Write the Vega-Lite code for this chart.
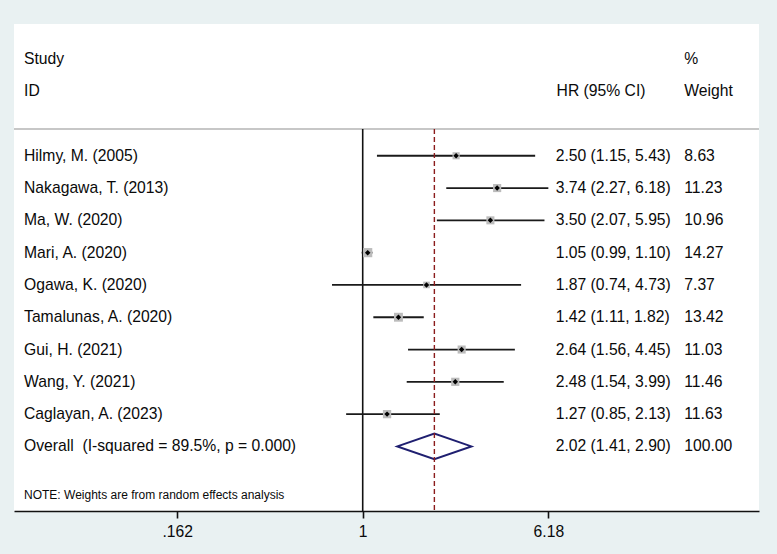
{
  "$schema": "https://vega.github.io/schema/vega-lite/v6.json",
  "width": 745,
  "height": 487,
  "autosize": {"type": "none"},
  "padding": {"left": 14, "top": 24, "right": 18, "bottom": 43},
  "background": "#e9f1f2",
  "config": {
    "view": {"stroke": null, "fill": "white"},
    "font": "Liberation Sans",
    "text": {"font": "Liberation Sans", "fontSize": 15.7, "color": "#0a0a0a", "align": "left", "baseline": "middle"}
  },
  "data": {
    "values": [
      {"study": "Hilmy, M. (2005)", "row": 1, "hr": 2.50, "lo": 1.15, "hi": 5.43, "w": 8.63, "kind": "study"},
      {"study": "Nakagawa, T. (2013)", "row": 2, "hr": 3.74, "lo": 2.27, "hi": 6.18, "w": 11.23, "kind": "study"},
      {"study": "Ma, W. (2020)", "row": 3, "hr": 3.50, "lo": 2.07, "hi": 5.95, "w": 10.96, "kind": "study"},
      {"study": "Mari, A. (2020)", "row": 4, "hr": 1.05, "lo": 0.99, "hi": 1.10, "w": 14.27, "kind": "study"},
      {"study": "Ogawa, K. (2020)", "row": 5, "hr": 1.87, "lo": 0.74, "hi": 4.73, "w": 7.37, "kind": "study"},
      {"study": "Tamalunas, A. (2020)", "row": 6, "hr": 1.42, "lo": 1.11, "hi": 1.82, "w": 13.42, "kind": "study"},
      {"study": "Gui, H. (2021)", "row": 7, "hr": 2.64, "lo": 1.56, "hi": 4.45, "w": 11.03, "kind": "study"},
      {"study": "Wang, Y. (2021)", "row": 8, "hr": 2.48, "lo": 1.54, "hi": 3.99, "w": 11.46, "kind": "study"},
      {"study": "Caglayan, A. (2023)", "row": 9, "hr": 1.27, "lo": 0.85, "hi": 2.13, "w": 11.63, "kind": "study"},
      {"study": "Overall\u00a0 (I-squared = 89.5%, p = 0.000)", "row": 10, "hr": 2.02, "lo": 1.41, "hi": 2.90, "w": 100.00, "kind": "overall"}
    ]
  },
  "transform": [
    {"calculate": "format(datum.hr, '.2f') + ' (' + format(datum.lo, '.2f') + ', ' + format(datum.hi, '.2f') + ')'", "as": "ci"},
    {"calculate": "format(datum.w, '.2f')", "as": "wt"}
  ],
  "encoding": {
    "x": {
      "type": "quantitative",
      "scale": {"type": "log", "domain": [0.03267, 48.82], "nice": false, "zero": false},
      "axis": {
        "title": null,
        "values": [0.162, 1, 6.18],
        "labelExpr": "datum.value == 1 ? '1' : (datum.value < 0.5 ? '.162' : '6.18')",
        "grid": false,
        "domainColor": "#111111",
        "domainWidth": 1.6,
        "tickColor": "#111111",
        "tickWidth": 1.6,
        "tickSize": 7,
        "labelFontSize": 15.7,
        "labelColor": "#0a0a0a",
        "labelFont": "Liberation Sans",
        "labelPadding": 6
      }
    },
    "y": {
      "type": "quantitative",
      "scale": {"domain": [-3.08, 12.0], "reverse": true, "nice": false, "zero": false},
      "axis": null
    }
  },
  "layer": [
    {
      "data": {"values": [{}]},
      "mark": {"type": "rule", "color": "#b4b4b4", "strokeWidth": 1.5},
      "encoding": {"x": null, "y": {"datum": 0.17}}
    },
    {
      "data": {"values": [{}]},
      "mark": {"type": "rule", "color": "#111111", "strokeWidth": 1.6},
      "encoding": {"x": {"datum": 1}, "y": {"datum": 0.17}, "y2": {"datum": 12.0}}
    },
    {
      "transform": [{"filter": "datum.kind == 'study'"}],
      "mark": {"type": "rule", "color": "#1a1a1a", "strokeWidth": 1.8},
      "encoding": {"x": {"field": "lo"}, "x2": {"field": "hi"}, "y": {"field": "row"}}
    },
    {
      "transform": [{"filter": "datum.kind == 'study'"}],
      "mark": {"type": "point", "shape": "square", "filled": true, "color": "#bcbcbc", "opacity": 1},
      "encoding": {
        "x": {"field": "hr"},
        "y": {"field": "row"},
        "size": {"field": "w", "type": "quantitative", "scale": {"type": "linear", "domain": [0, 100], "range": [0, 590]}, "legend": null}
      }
    },
    {
      "transform": [{"filter": "datum.kind == 'study'"}],
      "mark": {"type": "point", "shape": "diamond", "filled": true, "color": "#000000", "size": 30, "opacity": 1},
      "encoding": {"x": {"field": "hr"}, "y": {"field": "row"}}
    },
    {
      "transform": [{"filter": "datum.kind == 'overall'"}],
      "mark": {"type": "point", "shape": "M-1,0L0,-0.347L1,0L0,0.347Z", "filled": false, "stroke": "#1f1f70", "strokeWidth": 2, "size": 5476, "opacity": 1},
      "encoding": {"x": {"field": "hr"}, "y": {"field": "row"}}
    },
    {
      "transform": [{"filter": "datum.kind == 'overall'"}],
      "mark": {"type": "rule", "color": "#8b1c1c", "strokeWidth": 1.4, "strokeDash": [5, 3]},
      "encoding": {"x": {"field": "hr"}, "y": {"datum": 0.17}, "y2": {"datum": 12.0}}
    },
    {
      "mark": {"type": "text"},
      "encoding": {"x": {"datum": 0.03605}, "y": {"field": "row"}, "text": {"field": "study"}}
    },
    {
      "mark": {"type": "text"},
      "encoding": {"x": {"datum": 6.642}, "y": {"field": "row"}, "text": {"field": "ci"}}
    },
    {
      "mark": {"type": "text"},
      "encoding": {"x": {"datum": 23.46}, "y": {"field": "row"}, "text": {"field": "wt"}}
    },
    {
      "data": {"values": [{}]},
      "mark": {"type": "text", "text": "Study"},
      "encoding": {"x": {"datum": 0.03605}, "y": {"datum": -2}}
    },
    {
      "data": {"values": [{}]},
      "mark": {"type": "text", "text": "ID"},
      "encoding": {"x": {"datum": 0.03605}, "y": {"datum": -1}}
    },
    {
      "data": {"values": [{}]},
      "mark": {"type": "text", "text": "HR (95% CI)"},
      "encoding": {"x": {"datum": 6.70}, "y": {"datum": -1}}
    },
    {
      "data": {"values": [{}]},
      "mark": {"type": "text", "text": "%"},
      "encoding": {"x": {"datum": 23.46}, "y": {"datum": -2}}
    },
    {
      "data": {"values": [{}]},
      "mark": {"type": "text", "text": "Weight"},
      "encoding": {"x": {"datum": 23.46}, "y": {"datum": -1}}
    },
    {
      "data": {"values": [{}]},
      "mark": {"type": "text", "text": "NOTE: Weights are from random effects analysis", "fontSize": 12},
      "encoding": {"x": {"datum": 0.03605}, "y": {"datum": 11.5}}
    }
  ]
}
